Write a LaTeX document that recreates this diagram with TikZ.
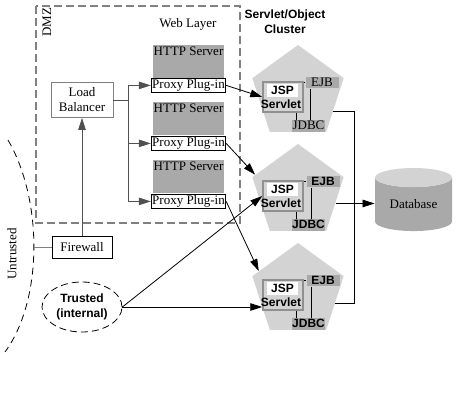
\documentclass[tikz,border=0pt]{standalone}
\usepackage{fontspec}
\setmainfont{Liberation Serif}
\setsansfont{Liberation Sans}
\usetikzlibrary{shapes.geometric,arrows.meta}
\definecolor{lgray}{HTML}{D3D3D3}
\definecolor{mgray}{HTML}{A9A9A9}
\definecolor{dgray}{HTML}{808080}
\definecolor{lgrey}{HTML}{505050}

\begin{document}
\begin{tikzpicture}[x=1pt, y=-1pt, line width=0.8pt,
  serif/.style={font=\fontsize{13}{15}\selectfont},
  bsans/.style={font=\fontsize{12}{15}\selectfont\sffamily\bfseries},
  http/.style={fill=mgray, serif, minimum width=71pt, inner sep=1pt, text height=9pt, text depth=22pt, anchor=north},
  proxy/.style={draw, fill=white, serif, minimum width=71pt, minimum height=14pt, inner sep=1pt, anchor=north},
  cluster/.style={regular polygon, regular polygon sides=5, minimum size=96pt, inner sep=0pt, fill=lgray},
  servbox/.style={draw=mgray!85!black, line width=1.5pt, minimum width=40pt, minimum height=30pt, inner sep=0pt},
  jspbox/.style={fill=white, bsans, minimum width=31pt, minimum height=13pt, inner sep=0pt},
  compbox/.style={fill=mgray, minimum width=33pt, text height=8.5pt, text depth=1pt, inner xsep=0pt, inner ysep=1pt},
  arr/.style={-{Triangle[length=12pt,width=7.5pt]}}]
        \useasboundingbox (0,0) rectangle (456,400);
        % DMZ and web layer
        \draw[dgray, dash pattern=on 8pt off 4pt, line width=1.2pt] (36,6) rectangle (240,223);
        \node[serif, rotate=90] (dmz) at (47,22) {DMZ};
        \node[serif] (web) at (188,24) {Web Layer};
        \node[http] (h1) at (188.5,45) {HTTP Server};
        \node[proxy] (p1) at (188.5,78) {Proxy Plug-in};
        \node[http] (h2) at (188.5,102) {HTTP Server};
        \node[proxy] (p2) at (188.5,136) {Proxy Plug-in};
        \node[http] (h3) at (188.5,160) {HTTP Server};
        \node[proxy] (p3) at (188.5,194) {Proxy Plug-in};
        \node[draw=dgray, serif, align=center, minimum width=62pt, minimum height=35pt, inner sep=0pt] (lb) at (82,100) {Load\\Balancer};
        \node[draw, serif, minimum width=60pt, minimum height=22pt, inner sep=0pt] (fw) at (82,247) {Firewall};
        \coordinate (split) at (128,100);
        \draw[lgrey] (lb) -- (split);
        \draw[arr, lgrey] (split) |- (p1.west);
        \draw[arr, lgrey] (split) |- (p2.west);
        \draw[arr, lgrey] (split) |- (p3.west);
        \draw[arr, lgrey] (fw) -- (lb);
        % untrusted side
        \coordinate (ut) at (8,140);
        \coordinate (ub) at (5,352);
        \coordinate (uw) at (34,247);
        \draw[dash pattern=on 7pt off 5pt] (ut) .. controls (43,200) and (43,300) .. (ub);
        \node[serif, rotate=90] (untr) at (12,254) {Untrusted};
        \draw[dgray] (fw) -- (uw);
        \node[ellipse, draw, dash pattern=on 7pt off 4pt, bsans, align=center, minimum width=80pt, minimum height=50pt, inner sep=0pt] (tr) at (82,307) {Trusted\\(internal)};
        % servlet/object cluster
        \node[bsans, align=center] (ttl) at (285,22) {Servlet/Object\\Cluster};
        \node[cluster] (g1) at (298,93) {};
        \node[servbox] (s1) at (283,97) {};
        \node[jspbox] (j1) at (282.5,90.5) {JSP};
        \node[bsans] (t1) at (281,104) {Servlet};
        \node[compbox, serif] (e1) at (322,82.5) {EJB};
        \node[compbox, serif] (d1) at (308.5,126) {JDBC};
        \node[cluster] (g2) at (298,192) {};
        \node[servbox] (s2) at (283,196) {};
        \node[jspbox] (j2) at (282.5,189.5) {JSP};
        \node[bsans] (t2) at (281,203) {Servlet};
        \node[compbox, bsans] (e2) at (323,181.5) {EJB};
        \node[compbox, bsans] (d2) at (308.5,225) {JDBC};
        \node[cluster] (g3) at (298,291) {};
        \node[servbox] (s3) at (283,295) {};
        \node[jspbox] (j3) at (282.5,288.5) {JSP};
        \node[bsans] (t3) at (281,302) {Servlet};
        \node[compbox, bsans] (e3) at (323,280.5) {EJB};
        \node[compbox, bsans] (d3) at (308.5,324) {JDBC};
        \draw (e1.west) -- (e1.west -| s1.east);
        \draw ([xshift=5pt]e1.south west) -- ([xshift=5pt]e1.south west |- d1.north);
        \draw ([xshift=5pt]d1.north west) -- ([xshift=5pt]d1.north west |- s1.south);
        \draw (e2.west) -- (e2.west -| s2.east);
        \draw ([xshift=5pt]e2.south west) -- ([xshift=5pt]e2.south west |- d2.north);
        \draw ([xshift=5pt]d2.north west) -- ([xshift=5pt]d2.north west |- s2.south);
        \draw (e3.west) -- (e3.west -| s3.east);
        \draw ([xshift=5pt]e3.south west) -- ([xshift=5pt]e3.south west |- d3.north);
        \draw ([xshift=5pt]d3.north west) -- ([xshift=5pt]d3.north west |- s3.south);
        % database
        \node[cylinder, shape border rotate=90, aspect=0.4, minimum width=77pt, minimum height=63pt, inner sep=0pt, cylinder uses custom fill, cylinder body fill=mgray, cylinder end fill=lgray, serif] (db) at (413.5,204.5) {Database};
        \coordinate (bus) at (354,204);
        \draw (g1.-28) -| (bus);
        \draw (g3.-18) -| (bus);
        \draw[arr] (g2.-17) -- (g2.-17 -| db.west);
        % connections
        \draw[arr] (p1.east) -- (s1.west);
        \draw[arr] (p2.east) -- (g2.158);
        \draw[arr] (p3.east) -- (g3.153);
        \draw[arr] (tr.east) -- (s2.west);
        \draw[arr] (tr.east) -- (tr.east -| s3.west);
    \end{tikzpicture}
\end{document}
